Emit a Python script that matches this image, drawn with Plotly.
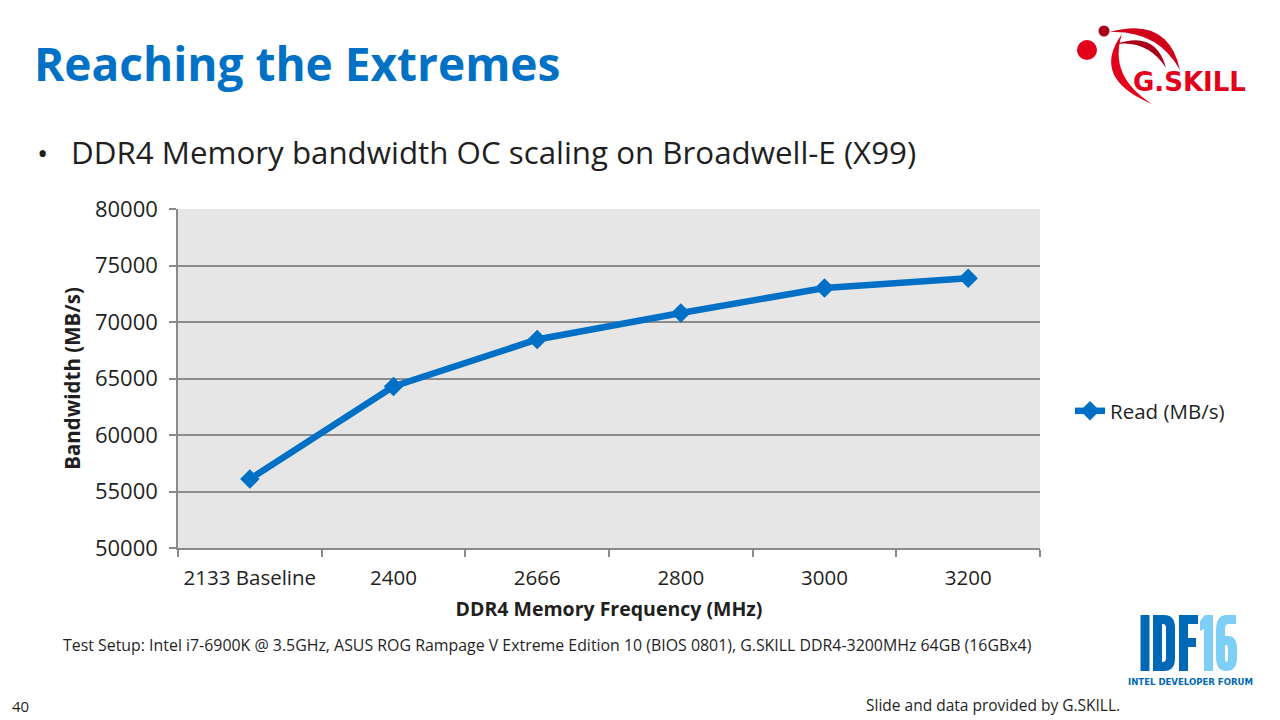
import plotly.graph_objects as go

# ---- data ----
frequencies = ["2133 Baseline", "2400", "2666", "2800", "3000", "3200"]
read_bw = [56100, 64300, 68450, 70800, 73000, 73870]
series_name = "Read (MB/s)"
y_ticks = [50000, 55000, 60000, 65000, 70000, 75000, 80000]

W, H = 1280, 720
L, R, T, B = 178, 1040, 209, 548


def px(x):
    return (x - L) / (R - L)


def py(y):
    return (B - y) / (B - T)


BLUE = "#0071c5"
TXT = "#1f1f1f"
FONT = "Open Sans"

fig = go.Figure()
fig.add_trace(go.Scatter(
    x=frequencies, y=read_bw, name=series_name, mode="lines+markers",
    line=dict(color="#0070c6", width=6.5),
    marker=dict(symbol="diamond", size=15, color="#0070c6"),
))

fig.update_layout(
    width=W, height=H,
    margin=dict(l=L, r=W - R, t=T, b=H - B, autoexpand=False),
    paper_bgcolor="white", plot_bgcolor="#e6e6e6",
    font=dict(family=FONT, color=TXT),
    showlegend=True,
    legend=dict(x=px(1070), y=py(411), xanchor="left", yanchor="middle",
                font=dict(size=20.5, color=TXT), bgcolor="rgba(0,0,0,0)",
                itemwidth=30),
    xaxis=dict(type="category", range=[-0.5, len(frequencies) - 0.5],
               tickson="boundaries", ticks="outside", tickangle=0,
               ticklen=7, tickcolor="#8a8a8a", tickwidth=1.5,
               showline=True, linecolor="#8a8a8a", linewidth=1.5,
               showgrid=False, tickfont=dict(size=20.5, color=TXT),
               ticklabelstandoff=11,
               title=dict(text="<b>DDR4 Memory Frequency (MHz)</b>",
                          font=dict(size=19.5, color=TXT), standoff=12)),
    yaxis=dict(range=[50000, 80000], tickvals=y_ticks,
               ticktext=[str(v) for v in y_ticks],
               ticks="outside", ticklen=7, tickcolor="#8a8a8a", tickwidth=1.5,
               showline=True, linecolor="#8a8a8a", linewidth=1.5,
               showgrid=True, gridcolor="#8c8c8c", gridwidth=1.5,
               zeroline=False, tickfont=dict(size=22, color=TXT),
               ticklabelstandoff=7,
               title=dict(text="<b>Bandwidth (MB/s)</b>",
                          font=dict(size=20.5, color=TXT), standoff=9)),
)


def ann(text, x, y, size, color=TXT, xanchor="left", yanchor="middle",
        family=FONT, bold=False):
    if bold:
        text = "<b>" + text + "</b>"
    fig.add_annotation(text=text, x=px(x), y=py(y), xref="paper", yref="paper",
                       xanchor=xanchor, yanchor=yanchor, showarrow=False,
                       font=dict(size=size, color=color, family=family))


# slide texts
ann("Reaching the Extremes", 32, 63, 46, BLUE, bold=True)
ann("•", 35, 152, 30)
ann("DDR4 Memory bandwidth OC scaling on Broadwell-E (X99)", 69, 152, 31.3)
ann("Test Setup: Intel i7-6900K @ 3.5GHz, ASUS ROG Rampage V Extreme Edition 10 (BIOS 0801), "
    "G.SKILL DDR4-3200MHz 64GB (16GBx4)", 61, 645, 15.9)
ann("40", 10, 706, 15)
ann("Slide and data provided by G.SKILL.", 1122, 705, 15.5, xanchor="right")

# IDF16 logo (text part)
ann("INTEL DEVELOPER FORUM", 1190.5, 681, 9.5, "#0068b5", xanchor="center",
    family="DejaVu Sans Condensed", bold=True)

# G.SKILL logo (text part)
ann("G.SKILL", 1131, 82, 26, "#e2001a", family="DejaVu Sans", bold=True)


def P(x, y):
    return f"{px(x):.5f},{py(y):.5f}"


def poly(pts):
    return "M " + " L ".join(P(x, y) for x, y in pts) + " Z"


shapes = []


def add_path(d, col):
    shapes.append(dict(type="path", xref="paper", yref="paper", path=d,
                       fillcolor=col, line=dict(width=0), layer="above"))


# ---- G.SKILL emblem ----
for cx, cy, r, col in [(1087, 50, 10, "#e2001a"), (1104, 31, 5.5, "#a8001a")]:
    shapes.append(dict(type="circle", xref="paper", yref="paper",
                       x0=px(cx - r), x1=px(cx + r), y0=py(cy + r), y1=py(cy - r),
                       fillcolor=col, line=dict(width=0)))
add_path(f"M {P(1122,34)} Q {P(1090,78)} {P(1152,104)} Q {P(1108,76)} {P(1122,34)} Z", "#e2001a")
add_path(f"M {P(1110,32)} Q {P(1168,16)} {P(1180,70)} Q {P(1158,30)} {P(1110,32)} Z", "#d0001a")
add_path(f"M {P(1116,44)} Q {P(1156,30)} {P(1166,68)} Q {P(1148,40)} {P(1116,44)} Z", "#a8001a")

# ---- IDF16 glyphs ----
IDF_C, SIX_C = "#0068b5", "#7dcff5"
add_path(poly([(1140.5, 615), (1149.5, 615), (1149.5, 671), (1140.5, 671)]), IDF_C)
add_path(f"M {P(1153,615)} L {P(1164,615)} Q {P(1175,615)} {P(1175,628)} L {P(1175,658)} "
         f"Q {P(1175,671)} {P(1164,671)} L {P(1153,671)} Z "
         f"M {P(1162,624)} L {P(1162,662)} L {P(1163,662)} Q {P(1166,662)} {P(1166,658)} "
         f"L {P(1166,628)} Q {P(1166,624)} {P(1163,624)} Z", IDF_C)
add_path(poly([(1179, 615), (1198, 615), (1198, 624), (1188, 624), (1188, 638), (1196, 638),
               (1196, 647), (1188, 647), (1188, 671), (1179, 671)]), IDF_C)
add_path(poly([(1205, 615), (1213, 615), (1213, 671), (1204, 671), (1204, 629),
               (1200, 631), (1200, 621)]), SIX_C)
add_path(f"M {P(1227,615)} Q {P(1216,615)} {P(1216,630)} L {P(1216,657)} "
         f"Q {P(1216,671)} {P(1226.5,671)} Q {P(1237,671)} {P(1237,657)} L {P(1237,649)} "
         f"Q {P(1237,636)} {P(1228,636)} L {P(1225,636)} L {P(1225,630)} "
         f"Q {P(1225,624)} {P(1228,624)} L {P(1236,624)} L {P(1236,615)} Z "
         f"M {P(1226.5,645)} Q {P(1228,645)} {P(1228,649)} L {P(1228,658)} "
         f"Q {P(1228,662)} {P(1226.5,662)} Q {P(1225,662)} {P(1225,658)} L {P(1225,645)} Z",
         SIX_C)

fig.update_layout(shapes=shapes)

fig.write_html("out.html")
